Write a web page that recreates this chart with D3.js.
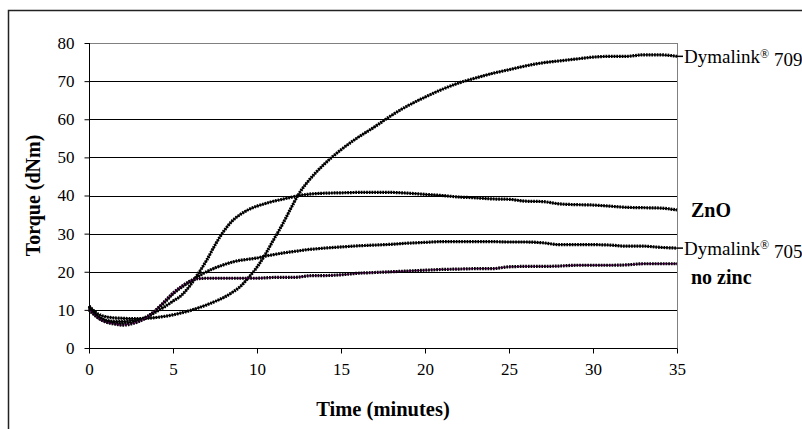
<!DOCTYPE html>
<html>
<head>
<meta charset="utf-8">
<script src="https://cdn.jsdelivr.net/npm/d3@7/dist/d3.min.js"></script>
<style>
  body { margin: 0; background: #fff; }
</style>
</head>
<body>
<svg id="chart" width="802" height="429"></svg>
<script>
// time in minutes (shared by all curves)
const time = [0, 0.5, 1, 1.5, 2, 2.5, 3, 3.5, 4, 4.5, 5, 5.5, 6, 6.5, 7, 7.5, 8, 8.5, 9, 9.5,
  10, 10.5, 11, 11.5, 12, 12.5, 13, 13.5, 14, 15, 16, 17, 18, 19, 20, 21, 22, 23, 24, 25,
  26, 27, 28, 29, 30, 31, 32, 33, 34, 35]

// torque (dNm)
const dymalink709 = [11, 9, 8.2, 7.9, 7.8, 7.7, 7.7, 7.8, 8, 8.3, 8.7, 9.2, 9.8, 10.5, 11.3, 12.2, 13.2, 14.5, 16.1, 18.5,
  21.2, 24.6, 28.5, 32.3, 36.5, 40.5, 43.5, 46, 48.2, 52, 55.2, 58, 61, 63.6, 65.8, 67.8, 69.5, 70.8, 72, 73,
  74, 74.8, 75.3, 75.8, 76.3, 76.5, 76.5, 76.9, 76.9, 76.5]
const zno = [11, 8.5, 7.3, 7, 7, 7.2, 7.5, 8.3, 9.5, 10.8, 12.3, 13.8, 16.3, 19.5, 23, 27, 30.5, 33.2, 35, 36.3,
  37.2, 37.9, 38.5, 39, 39.5, 40, 40.3, 40.5, 40.6, 40.7, 40.8, 40.8, 40.8, 40.6, 40.3, 40, 39.6, 39.4, 39.1, 39,
  38.5, 38.4, 37.8, 37.6, 37.5, 37.2, 36.9, 36.8, 36.7, 36.2]
const dymalink705 = [10.5, 8.2, 7, 6.6, 6.5, 6.7, 7.3, 8.3, 10, 12, 14.2, 15.9, 17.4, 18.8, 20, 21, 21.8, 22.5, 23, 23.3,
  23.6, 24.1, 24.5, 24.9, 25.2, 25.5, 25.8, 26, 26.2, 26.5, 26.8, 27, 27.2, 27.5, 27.7, 27.9, 27.9, 27.9, 27.9, 27.8,
  27.8, 27.6, 27.1, 27.1, 27.1, 27, 26.7, 26.7, 26.4, 26.2]
const noZinc = [10, 8, 6.8, 6.3, 6, 6.3, 7, 8.2, 10, 12.2, 14.4, 16.1, 17.5, 18.2, 18.3, 18.3, 18.3, 18.3, 18.3, 18.3,
  18.3, 18.4, 18.5, 18.5, 18.5, 18.6, 18.9, 19, 19, 19.2, 19.6, 19.8, 20, 20.2, 20.4, 20.6, 20.7, 20.8, 20.8, 21.3,
  21.4, 21.4, 21.5, 21.7, 21.7, 21.7, 21.8, 22.1, 22.1, 22.1]

const xTicks = [0, 5, 10, 15, 20, 25, 30, 35]
const yTicks = [0, 10, 20, 30, 40, 50, 60, 70, 80]

const seriesNames = ["Dymalink® 709", "ZnO", "Dymalink® 705", "no zinc"]
const seriesValues = [dymalink709, zno, dymalink705, noZinc]

const serif = "'Liberation Serif'"

let svg = d3.select("#chart")

// chart area frame (cut off at right and bottom)
svg.append("rect")
  .attr("x", 8.5).attr("y", 10.5)
  .attr("width", 820).attr("height", 440)
  .style("fill", "none")
  .style("stroke", "#222")
  .style("stroke-width", 1.5)

let x = d3.scaleLinear().domain([0, 35]).range([89, 677])
let y = d3.scaleLinear().domain([0, 80]).range([348, 43])

// gridlines
svg.append("g")
  .selectAll("line")
  .data(yTicks.filter(d => d > 0 && d < 80))
  .join("line")
  .attr("x1", x(0)).attr("x2", x(35))
  .attr("y1", d => Math.round(y(d)) + 0.5)
  .attr("y2", d => Math.round(y(d)) + 0.5)
  .style("stroke", "#000")
  .style("stroke-width", 1)

// plot box (gray)
svg.append("rect")
  .attr("x", x(0) + 0.5).attr("y", Math.round(y(80)) + 0.5)
  .attr("width", x(35) - x(0))
  .attr("height", Math.round(y(0)) - Math.round(y(80)))
  .style("fill", "none")
  .style("stroke", "#808080")

// axes
let xAxis = svg.append("g")
  .attr("transform", "translate(0," + (Math.round(y(0)) + 0.5) + ")")
  .call(d3.axisBottom(x).tickValues(xTicks).tickSize(5).tickPadding(9).tickFormat(d3.format("d")))
let yAxis = svg.append("g")
  .attr("transform", "translate(" + (x(0) + 0.5) + ",0)")
  .call(d3.axisLeft(y).tickValues(yTicks).tickSize(5).tickPadding(10).tickFormat(d3.format("d")))

svg.selectAll(".tick text")
  .style("font-family", serif)
  .style("font-size", "17px")
  .style("fill", "#000")
svg.selectAll(".domain").style("stroke", "#000")
svg.selectAll(".tick line").style("stroke", "#000")
yAxis.select(".domain").attr("d", "M0," + y(0) + "V" + y(80))
xAxis.select(".domain").attr("d", "M" + x(0) + ",0H" + x(35))

// curves
let line = d3.line()
  .x((d, i) => x(time[i]))
  .y(d => y(d))
  .curve(d3.curveMonotoneX)

seriesValues.forEach(function (vals, k) {
  svg.append("path")
    .attr("d", line(vals))
    .style("fill", "none")
    .style("stroke", k === 3 ? "#800080" : "#000")
    .style("stroke-width", 1.3)
  svg.append("path")
    .attr("d", line(vals))
    .style("fill", "none")
    .style("stroke", "#000")
    .style("stroke-width", 3.2)
    .style("stroke-dasharray", "1.7,1")
})

// end labels
const labelBold = [false, true, false, true]
const labelDy = [0, 0, 0, 13]
seriesNames.forEach(function (name, k) {
  let vals = seriesValues[k]
  let yEnd = y(vals[vals.length - 1])
  if (!labelBold[k]) {
    svg.append("line")
      .attr("x1", x(35)).attr("x2", x(35) + 6)
      .attr("y1", yEnd).attr("y2", yEnd)
      .style("stroke", "#000").style("stroke-width", 1.5)
  }
  let t = svg.append("text")
    .attr("x", labelBold[k] ? 691 : 684)
    .attr("y", yEnd + labelDy[k])
    .attr("dy", "0.35em")
    .style("font-family", serif)
    .style("font-size", labelBold[k] ? "20px" : "19px")
    .style("font-weight", labelBold[k] ? "bold" : "normal")
  if (name.indexOf("®") >= 0) {
    let parts = name.split("®")
    t.append("tspan").text(parts[0])
    t.append("tspan").attr("dy", "-0.45em").style("font-size", "12px").text("®")
    t.append("tspan").attr("dy", "0.45em").text(parts[1])
  } else {
    t.text(name)
  }
})

// axis titles
svg.append("text")
  .attr("x", (x(0) + x(35)) / 2)
  .attr("y", 416)
  .attr("text-anchor", "middle")
  .style("font-family", serif)
  .style("font-size", "20.5px")
  .style("font-weight", "bold")
  .text("Time (minutes)")

svg.append("text")
  .attr("transform", "translate(40," + (y(40)) + ") rotate(-90)")
  .attr("text-anchor", "middle")
  .style("font-family", serif)
  .style("font-size", "20px")
  .style("font-weight", "bold")
  .text("Torque (dNm)")
</script>
</body>
</html>
